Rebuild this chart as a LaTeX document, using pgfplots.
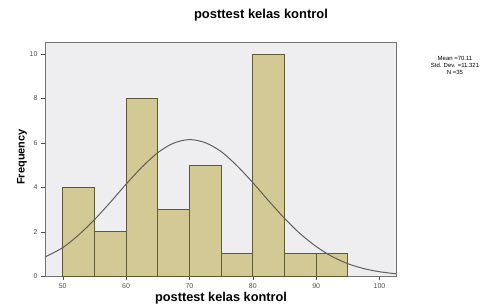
\documentclass[border=0pt]{standalone}
\usepackage{pgfplots}
\pgfplotsset{compat=1.18}
\usepackage{fontspec}
\setmainfont{Liberation Sans}
\definecolor{barfill}{RGB}{210,201,148}
\definecolor{baredge}{RGB}{95,90,50}
\definecolor{plotbg}{RGB}{238,238,241}
\definecolor{curve}{RGB}{95,95,95}
\begin{document}
\begin{tikzpicture}[x=1bp,y=1bp]
\useasboundingbox (0,0) rectangle (491,306);
\begin{axis}[
  at={(45bp,30bp)}, anchor=south west,
  scale only axis, width=351bp, height=234bp,
  xmin=47.2, xmax=102.6, ymin=0, ymax=10.55,
  xtick={50,60,...,100}, ytick={0,2,...,10},
  axis x line*=box, axis y line*=box,
  tick align=outside, major tick length=4bp,
  xtick pos=bottom, ytick pos=left,
  tick style={draw=black!70},
  axis line style={draw=black!55},
  ticklabel style={font=\fontsize{7}{8}\selectfont, text=black!70},
  /pgf/number format/assume math mode=true,
  axis background/.style={fill=plotbg},
  clip=true,
]
\addplot[ybar interval, fill=barfill, draw=baredge, line width=0.8pt] coordinates {
  (50,4) (55,2) (60,8) (65,3) (70,5) (75,1) (80,10) (85,1) (90,1) (95,1)
};
\addplot[smooth, draw=curve, line width=1pt] coordinates {
  (47.2,0.86) (50,1.28) (52.5,1.85) (55,2.54) (57.5,3.32) (60,4.14) (62.5,4.91)
  (65,5.56) (67.5,5.99) (70,6.15) (72.5,6.01) (75,5.61) (77.5,4.97)
  (80,4.21) (82.5,3.39) (85,2.60) (87.5,1.90) (90,1.33) (92.5,0.88)
  (95,0.555) (97.5,0.335) (100,0.192) (102.6,0.10)
};
\end{axis}
\node[font=\fontsize{13}{15}\selectfont\bfseries] at (261,291) {posttest kelas kontrol};
\node[font=\fontsize{12.8}{15}\selectfont\bfseries] at (221,8) {posttest kelas kontrol};
\node[font=\fontsize{11}{13}\selectfont\bfseries, rotate=90] at (22,149) {Frequency};
\node[font=\fontsize{6}{7}\selectfont, align=center] at (455,241) {Mean =70.11\\Std. Dev. =11.321\\N =35};
\end{tikzpicture}
\end{document}
